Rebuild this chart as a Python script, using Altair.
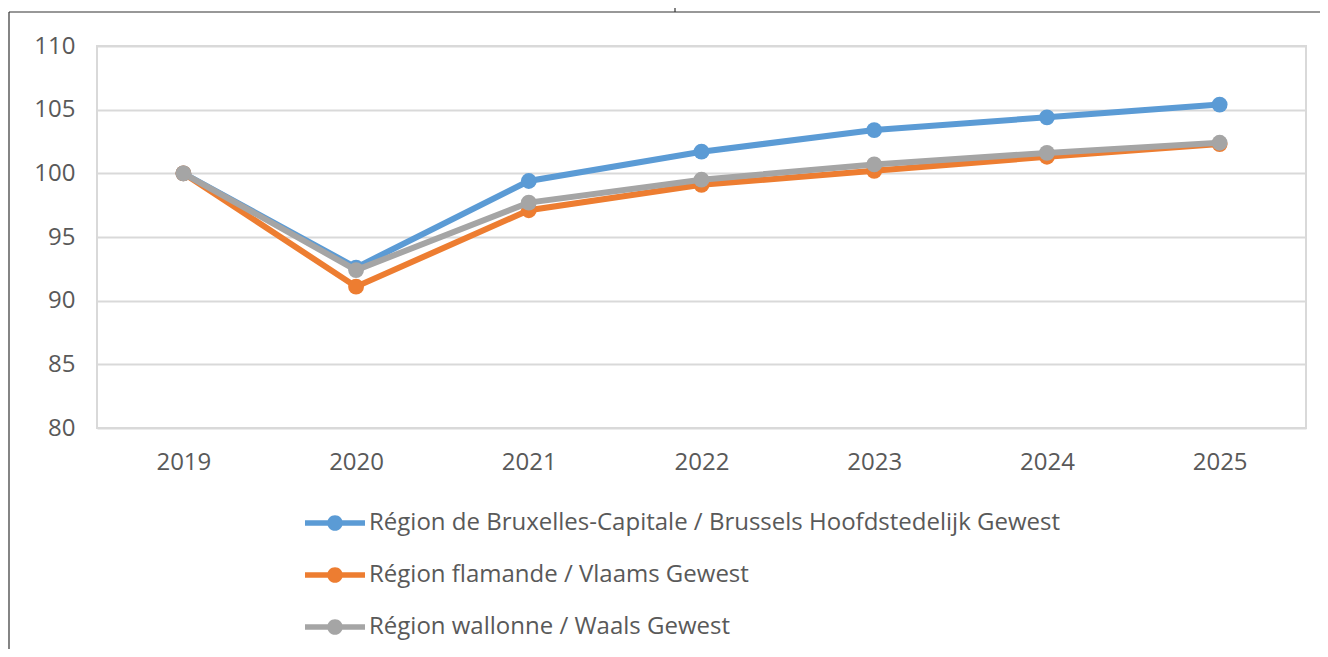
import altair as alt
import pandas as pd

years = ["2019", "2020", "2021", "2022", "2023", "2024", "2025"]
brussels = [100, 92.6, 99.4, 101.7, 103.4, 104.4, 105.4]
flanders = [100, 91.1, 97.1, 99.1, 100.2, 101.3, 102.3]
wallonia = [100, 92.4, 97.7, 99.5, 100.7, 101.6, 102.4]
series = [
    "Région de Bruxelles-Capitale / Brussels Hoofdstedelijk Gewest",
    "Région flamande / Vlaams Gewest",
    "Région wallonne / Waals Gewest",
]
colors = ["#5B9BD5", "#ED7D31", "#A5A5A5"]
y_ticks = [80, 85, 90, 95, 100, 105, 110]

rows = []
for name, vals in zip(series, [brussels, flanders, wallonia]):
    for yr, v in zip(years, vals):
        rows.append({"year": yr, "value": v, "region": name})
df = pd.DataFrame(rows)

FONT = "Open Sans"
TXT = "#595959"
GRID = "#D9D9D9"
FS = 24

sym_path = ("M-1,-0.09L1,-0.09L1,0.09L-1,0.09Z "
            "M0.26,0A0.26,0.26,0,1,1,-0.26,0A0.26,0.26,0,1,1,0.26,0Z")

x_enc = alt.X("year:N", sort=years,
              scale=alt.Scale(type="point", padding=0.5),
              axis=alt.Axis(title=None, labelAngle=0, domain=False, ticks=False,
                            grid=False, labelFontSize=FS, labelFont=FONT,
                            labelColor=TXT, labelPadding=22))
y_enc = alt.Y("value:Q", scale=alt.Scale(domain=[80, 110], nice=False, zero=False),
              axis=alt.Axis(title=None, values=y_ticks, domain=False, ticks=False,
                            grid=True, gridColor=GRID, gridWidth=2,
                            labelFontSize=FS, labelFont=FONT, labelColor=TXT,
                            labelPadding=22))
legend = alt.Legend(
    title=None, orient="none", legendX=208, legendY=447, direction="vertical",
    symbolType=sym_path, symbolSize=3600, symbolStrokeWidth=0,
    labelFontSize=FS, labelFont=FONT, labelColor=TXT, labelOffset=4,
    rowPadding=10, labelLimit=1000, symbolOpacity=1,
)
color_enc = alt.Color("region:N", sort=series,
                      scale=alt.Scale(domain=series, range=colors), legend=legend)

layers = []
for name in series:
    base = alt.Chart(df).transform_filter(alt.datum.region == name)
    layers.append(base.mark_line(strokeWidth=6).encode(x=x_enc, y=y_enc, color=color_enc))
    layers.append(base.mark_point(filled=True, size=250, opacity=1).encode(
        x=x_enc, y=y_enc, color=color_enc))

frame_data = alt.Data(values=[{"k": 1}])
left_line = alt.Chart(frame_data).mark_rule(color="#333333", strokeWidth=1.2).encode(
    x=alt.value(-88), y=alt.value(-34), y2=alt.value(620))
top_line = alt.Chart(frame_data).mark_rule(color="#333333", strokeWidth=1.2).encode(
    x=alt.value(-88), x2=alt.value(1240), y=alt.value(-34))
tick_line = alt.Chart(frame_data).mark_rule(color="#333333", strokeWidth=1.2).encode(
    x=alt.value(578), y=alt.value(-40), y2=alt.value(-34))

chart = alt.layer(*layers, left_line, top_line, tick_line).properties(
    width=1209, height=382,
    autosize=alt.AutoSizeParams(type="none"),
    padding={"left": 89, "top": 38, "right": 14, "bottom": 221},
    background="white",
).configure_view(stroke=GRID, strokeWidth=2)

chart.save("out.html", embed_options={"renderer": "svg", "actions": False})
